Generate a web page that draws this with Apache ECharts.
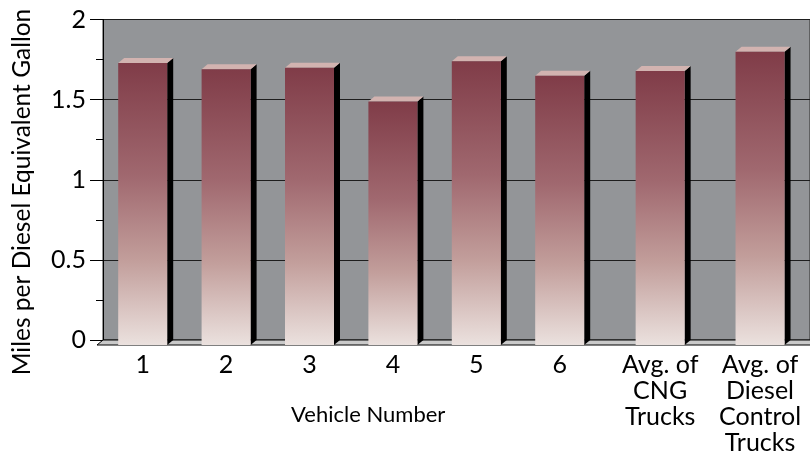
<!DOCTYPE html>
<html>
<head>
<meta charset="utf-8">
<script src="https://cdn.jsdelivr.net/npm/echarts@6/dist/echarts.min.js"></script>
<style>
html,body{margin:0;padding:0;background:#fff;}
#c{width:810px;height:459px;}
</style>
</head>
<body>
<div id="c"></div>
<script>
const vehicleCategories = ['1', '2', '3', '4', '5', '6'];
const vehicleValues = [1.76, 1.72, 1.73, 1.52, 1.77, 1.68];
const averageCategories = ['Avg. of\nCNG\nTrucks', 'Avg. of\nDiesel\nControl\nTrucks'];
const averageValues = [1.71, 1.83];
const yTickValues = [0, 0.5, 1, 1.5, 2];
const yTitle = 'Miles per Diesel Equivalent Gallon';
const xTitle = 'Vehicle Number';

const FONT = 'Lato';
const DX = 6, DY = 5, BAR_W = 49;

// category slots are laid out at the bar front faces; the back of each bar sits DX to the right
function renderBar(params, api) {
  const c = api.value(0);
  const v = api.value(1);
  const top = api.coord([c, v]);
  const base = api.coord([c, 0]);
  const fx = top[0] - BAR_W / 2;
  const fy = top[1] + DY;
  const fb = base[1] + DY;
  return {
    type: 'group',
    children: [
      {
        type: 'polygon',
        shape: { points: [[fx + BAR_W, fy], [fx + BAR_W + DX, fy - DY], [fx + BAR_W + DX, base[1]], [fx + BAR_W, fb]] },
        style: { fill: '#000' }
      },
      {
        type: 'polygon',
        shape: { points: [[fx, fy], [fx + DX, fy - DY], [fx + BAR_W + DX, fy - DY], [fx + BAR_W, fy]] },
        style: { fill: '#d2b3b0' }
      },
      {
        type: 'rect',
        shape: { x: fx, y: fy, width: BAR_W, height: fb - fy },
        style: {
          fill: new echarts.graphic.LinearGradient(0, 0, 0, 1, [
            { offset: 0, color: '#803c48' },
            { offset: 0.4, color: '#a0686f' },
            { offset: 0.7, color: '#c29e9b' },
            { offset: 1, color: '#ebe1de' }
          ])
        }
      }
    ]
  };
}

const TOP = 19.5, BOTTOM = 119;
const chart = echarts.init(document.getElementById('c'), null, { renderer: 'canvas' });

const hiddenY = { type: 'value', min: 0, max: 2, interval: 0.5, show: false };
const labelStyle = { fontFamily: FONT, fontSize: 25, color: '#000', lineHeight: 26, margin: 12, interval: 0, hideOverlap: false };

const yTitleGraphic = {
  type: 'text', x: 22, y: 192, rotation: Math.PI / 2,
  style: { text: yTitle, font: '24.5px ' + FONT, fill: '#000', align: 'center', verticalAlign: 'middle' }
};

chart.setOption({
  animation: false,
  backgroundColor: '#fff',
  grid: [
    { left: 103, right: -2, top: TOP, bottom: BOTTOM, show: true, backgroundColor: '#939598', borderColor: '#2a2a2a', borderWidth: 1 },
    { left: 101, width: 500.4, top: TOP, bottom: BOTTOM },
    { left: 610.2, width: 205.8, top: TOP, bottom: BOTTOM }
  ],
  xAxis: [
    { gridIndex: 0, type: 'category', data: [''], show: false },
    {
      gridIndex: 1, type: 'category', data: vehicleCategories,
      axisLine: { show: false }, axisTick: { show: false },
      axisLabel: Object.assign({}, labelStyle),
      name: xTitle, nameLocation: 'middle', nameGap: 64,
      nameTextStyle: { fontFamily: FONT, fontSize: 22, color: '#000', padding: [0, 0, 0, 34] }
    },
    {
      gridIndex: 2, type: 'category', data: averageCategories,
      axisLine: { show: false }, axisTick: { show: false },
      axisLabel: Object.assign({ verticalAlign: 'top', showMaxLabel: true, showMinLabel: true }, labelStyle)
    }
  ],
  yAxis: [
    {
      gridIndex: 0, type: 'value', min: 0, max: 2, interval: 0.5,
      axisLine: { show: true, lineStyle: { color: '#000', width: 1 } },
      axisTick: { show: true, length: 13, lineStyle: { color: '#000' } },
      minorTick: { show: true, splitNumber: 2, length: 7, lineStyle: { color: '#000' } },
      splitLine: { show: true, lineStyle: { color: '#1e1e1e', width: 1 } },
      axisLabel: {
        fontFamily: FONT, fontSize: 25, color: '#000', margin: 17,
        formatter: function (v) { return yTickValues.indexOf(v) >= 0 ? String(v) : ''; }
      }
    },
    Object.assign({ gridIndex: 1 }, hiddenY),
    Object.assign({ gridIndex: 2 }, hiddenY)
  ],
  graphic: [yTitleGraphic],
  series: [
    {
      type: 'custom', xAxisIndex: 1, yAxisIndex: 1, z: 5,
      renderItem: renderBar,
      data: vehicleValues.map(function (v, i) { return [i, v]; })
    },
    {
      type: 'custom', xAxisIndex: 2, yAxisIndex: 2, z: 5,
      renderItem: renderBar,
      data: averageValues.map(function (v, i) { return [i, v]; })
    }
  ]
});

// floor strip under the back wall, positioned from the axis scale
const p0 = chart.convertToPixel({ xAxisIndex: 0, yAxisIndex: 0 }, [0, 0]);
const yFloor = p0[1];
chart.setOption({
  graphic: [
    yTitleGraphic,
    {
      type: 'polygon', z: 3,
      shape: { points: [[103, yFloor], [812, yFloor], [812, yFloor + DY], [103 - DX, yFloor + DY]] },
      style: { fill: '#c9c9c9', stroke: '#000', lineWidth: 1 }
    }
  ]
});
</script>
</body>
</html>
